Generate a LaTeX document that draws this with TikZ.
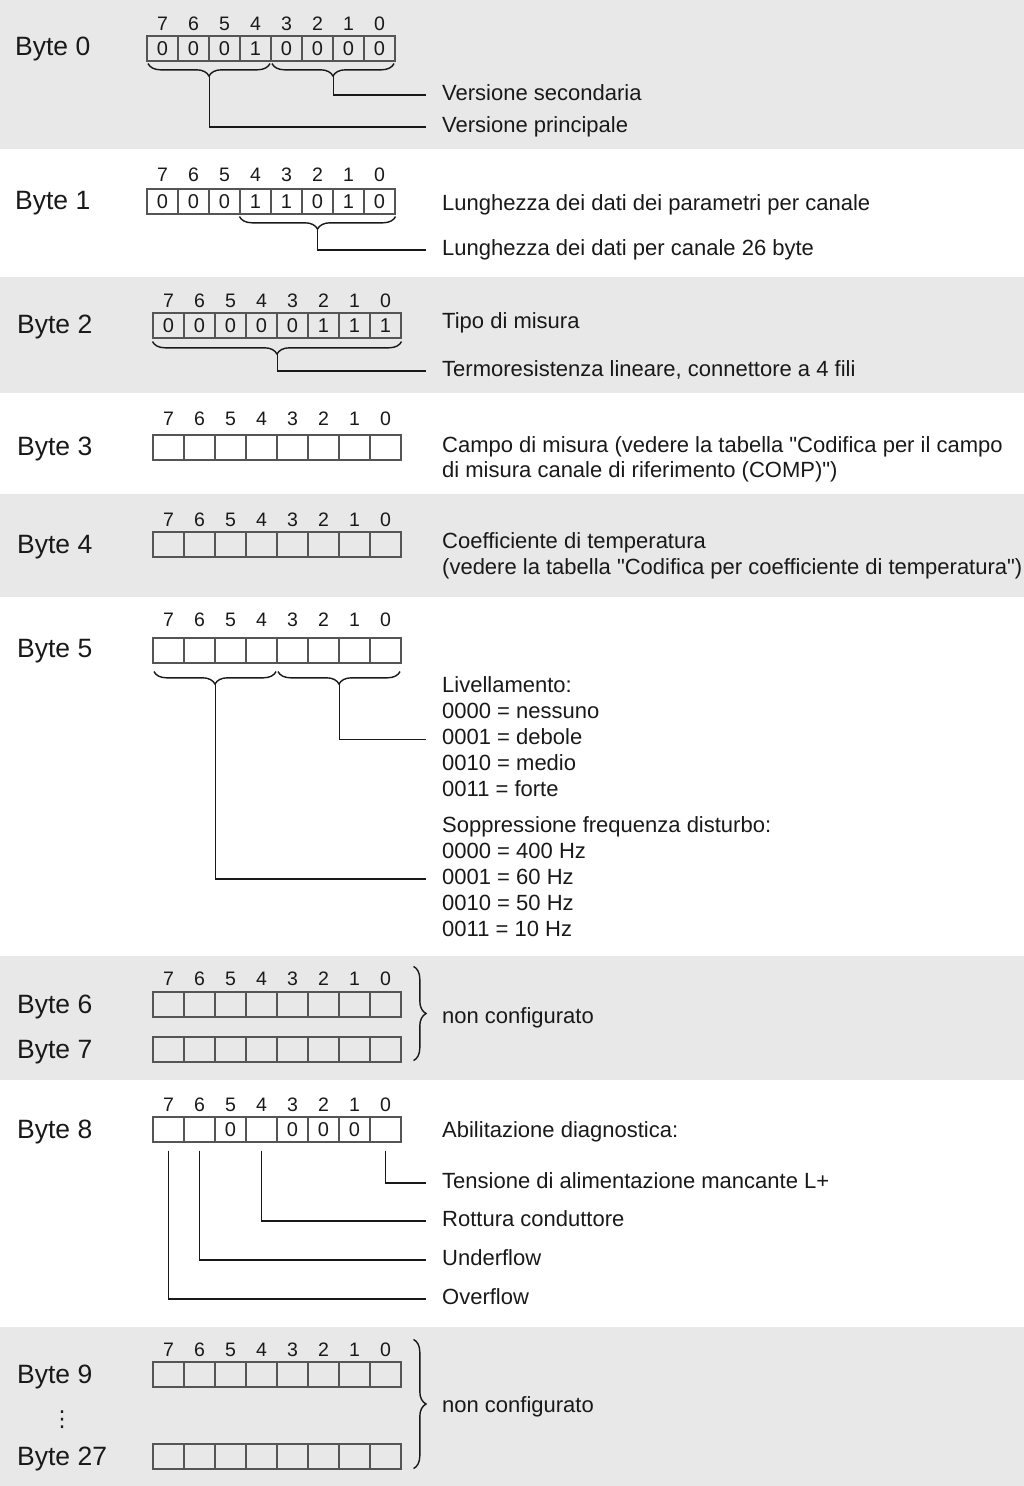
\documentclass[tikz,border=0pt]{standalone}
\usepackage{fontspec}
\setmainfont{Liberation Sans}[Ligatures=TeXOff]
\newfontfamily\symfont{DejaVu Sans}
\usetikzlibrary{calc,decorations.pathreplacing}
\definecolor{rowGray}{RGB}{232,232,232}
\definecolor{cellLine}{RGB}{85,85,85}
\definecolor{inkBlack}{RGB}{25,25,25}
\tikzset{
    band/.style={fill=rowGray, draw=none},
    bytelbl/.style={anchor=west, inner sep=0pt, text=inkBlack,
                    font=\fontsize{26.5}{30}\selectfont, text height=19pt, text depth=0pt},
    bitnum/.style={inner sep=0pt, text=inkBlack, font=\fontsize{19.5}{22}\selectfont},
    cell/.style={draw=cellLine, line width=1.1pt, minimum width=31pt, minimum height=25pt,
                 inner sep=0pt, text=inkBlack, font=\fontsize{20}{22}\selectfont},
    desc/.style={anchor=west, inner sep=0pt, text=inkBlack,
                 font=\fontsize{22}{26}\selectfont, text height=15.5pt, text depth=5pt},
    lead/.style={draw=inkBlack, line width=1.5pt, shorten >=16pt},
    brc/.style={draw=inkBlack, line width=1.4pt, decorate, decoration={brace, amplitude=12.5pt}},
    dotcol/.style={inner sep=0pt, text=inkBlack, font=\symfont\fontsize{22}{26}\selectfont}
}
% bit numbers 7..0 above a row: name, left x, centre y
\newcommand{\bitnums}[3]{%
  \foreach \bn [count=\i from 0] in {7,6,...,0}
    \node[bitnum] (#1n\bn) at ({#2+31*\i+15.5},#3) {\bn};}
% one byte of cells: name, left x, top y, values from bit 7 to bit 0 (n = empty)
\newcommand{\cells}[4]{%
  \foreach \v [count=\i from 0] in {#4} {
    \pgfmathtruncatemacro{\bitno}{7-\i}
    \node[cell] (#1c\bitno) at ({#2+31*\i+15.5},{#3+12.5}) {\if n\v\else\v\fi};
  }}

\begin{document}
\begin{tikzpicture}[x=1pt, y=-1pt]
  \useasboundingbox (0,0) rectangle (1024,1486);
  \fill[band] (0,0) rectangle (1024,149);
  \fill[band] (0,277) rectangle (1024,393);
  \fill[band] (0,494) rectangle (1024,597);
  \fill[band] (0,956) rectangle (1024,1080);
  \fill[band] (0,1327) rectangle (1024,1486);

  % Byte 0
  \node[bytelbl] (l0) at (15,46) {Byte 0};
  \bitnums{b0}{147}{23.5}
  \cells{b0}{147}{36}{0,0,0,1,0,0,0,0}
  \draw[brc] ($(b0c4.south east)+(-1.5,2)$) -- ($(b0c7.south west)+(1.5,2)$);
  \draw[brc] ($(b0c0.south east)+(-1.5,2)$) -- ($(b0c3.south west)+(1.5,2)$);
  \coordinate (b0lo) at ($(b0c6.south east)+(0,14.5)$);
  \coordinate (b0hi) at ($(b0c2.south east)+(0,14.5)$);
  \node[desc] (vsec) at (442,95) {Versione secondaria};
  \node[desc] (vpri) at (442,127) {Versione principale};
  \draw[lead] (b0hi) |- (vsec.west);
  \draw[lead] (b0lo) |- (vpri.west);

  % Byte 1
  \node[bytelbl] (l1) at (15,200) {Byte 1};
  \bitnums{b1}{147}{175}
  \cells{b1}{147}{189}{0,0,0,1,1,0,1,0}
  \draw[brc] ($(b1c0.south east)+(0,2)$) -- ($(b1c4.south west)+(0,2)$);
  \coordinate (b1br) at ($(b1c2.south)+(0,14.5)$);
  \node[desc] (lpar) at (442,205) {Lunghezza dei dati dei parametri per canale};
  \node[desc] (l26) at (442,250) {Lunghezza dei dati per canale 26 byte};
  \draw[lead] (b1br) |- (l26.west);

  % Byte 2
  \node[bytelbl] (l2) at (17,324) {Byte 2};
  \bitnums{b2}{153}{301}
  \cells{b2}{153}{313}{0,0,0,0,0,1,1,1}
  \draw[brc] ($(b2c0.south east)+(0,3)$) -- ($(b2c7.south west)+(0,3)$);
  \coordinate (b2br) at ($(b2c4.south east)+(0,15.5)$);
  \node[desc] (tipo) at (442,323) {Tipo di misura};
  \node[desc] (term) at (442,371) {Termoresistenza lineare, connettore a 4 fili};
  \draw[lead] (b2br) |- (term.west);

  % Byte 3
  \node[bytelbl] (l3) at (17,446) {Byte 3};
  \bitnums{b3}{153}{418.5}
  \cells{b3}{153}{435}{n,n,n,n,n,n,n,n}
  \node[desc] (campoA) at (442,447) {Campo di misura (vedere la tabella "Codifica per il campo};
  \node[desc] (campoB) at (442,472) {di misura canale di riferimento (COMP)")};

  % Byte 4
  \node[bytelbl] (l4) at (17,543.5) {Byte 4};
  \bitnums{b4}{153}{520}
  \cells{b4}{153}{532}{n,n,n,n,n,n,n,n}
  \node[desc] (coefA) at (442,543) {Coefficiente di temperatura};
  \node[desc] (coefB) at (442,569) {(vedere la tabella "Codifica per coefficiente di temperatura")};

  % Byte 5
  \node[bytelbl] (l5) at (17,648) {Byte 5};
  \bitnums{b5}{153}{620}
  \cells{b5}{153}{638}{n,n,n,n,n,n,n,n}
  \draw[brc] ($(b5c4.south east)+(-1.5,8)$) -- ($(b5c7.south west)+(1.5,8)$);
  \draw[brc] ($(b5c0.south east)+(-1.5,8)$) -- ($(b5c3.south west)+(1.5,8)$);
  \coordinate (b5lo) at ($(b5c6.south east)+(0,20.5)$);
  \coordinate (b5hi) at ($(b5c2.south east)+(0,20.5)$);
  \foreach \t [count=\k from 0] in {Livellamento:, 0000 = nessuno, 0001 = debole, 0010 = medio, 0011 = forte}
    \node[desc] (liv\k) at (442,687.5+26*\k) {\t};
  \foreach \t [count=\k from 0] in {Soppressione frequenza disturbo:, 0000 = 400 Hz, 0001 = 60 Hz, 0010 = 50 Hz, 0011 = 10 Hz}
    \node[desc] (sop\k) at (442,827+26*\k) {\t};
  \draw[lead] (b5hi) |- (liv2.west);
  \draw[lead] (b5lo) |- (sop2.west);

  % Byte 6 and 7
  \node[bytelbl] (l6) at (17,1003.5) {Byte 6};
  \node[bytelbl] (l7) at (17,1048.5) {Byte 7};
  \bitnums{b6}{153}{979}
  \cells{b6}{153}{992}{n,n,n,n,n,n,n,n}
  \cells{b7}{153}{1037}{n,n,n,n,n,n,n,n}
  \draw[brc] ($(b6c0.north east)+(12,-25)$) -- ($(b7c0.south east)+(12,-2)$);
  \node[desc] (nc67) at (442,1018.5) {non configurato};

  % Byte 8
  \node[bytelbl] (l8) at (17,1129) {Byte 8};
  \bitnums{b8}{153}{1105}
  \cells{b8}{153}{1117}{n,n,0,n,0,0,0,n}
  \node[desc] (abil) at (442,1132.5) {Abilitazione diagnostica:};
  \node[desc] (tens) at (442,1183) {Tensione di alimentazione mancante L+};
  \node[desc] (rott) at (442,1221) {Rottura conduttore};
  \node[desc] (under) at (442,1260) {Underflow};
  \node[desc] (over) at (442,1299) {Overflow};
  \draw[lead, shorten <=8pt] (b8c0.south) |- (tens.west);
  \draw[lead, shorten <=8pt] (b8c4.south) |- (rott.west);
  \draw[lead, shorten <=8pt] (b8c6.south) |- (under.west);
  \draw[lead, shorten <=8pt] (b8c7.south) |- (over.west);

  % Byte 9 to 27
  \node[bytelbl] (l9) at (17,1373.5) {Byte 9};
  \node[dotcol] (vd) at (62,1420) {⋮};
  \node[bytelbl] (l27) at (17,1455.5) {Byte 27};
  \bitnums{b9}{153}{1350}
  \cells{b9}{153}{1362}{n,n,n,n,n,n,n,n}
  \cells{b27}{153}{1444}{n,n,n,n,n,n,n,n}
  \draw[brc] ($(b9c0.north east)+(12,-22)$) -- ($(b27c0.south east)+(12,-1)$);
  \node[desc] (nc9) at (442,1407.5) {non configurato};
\end{tikzpicture}
\end{document}
